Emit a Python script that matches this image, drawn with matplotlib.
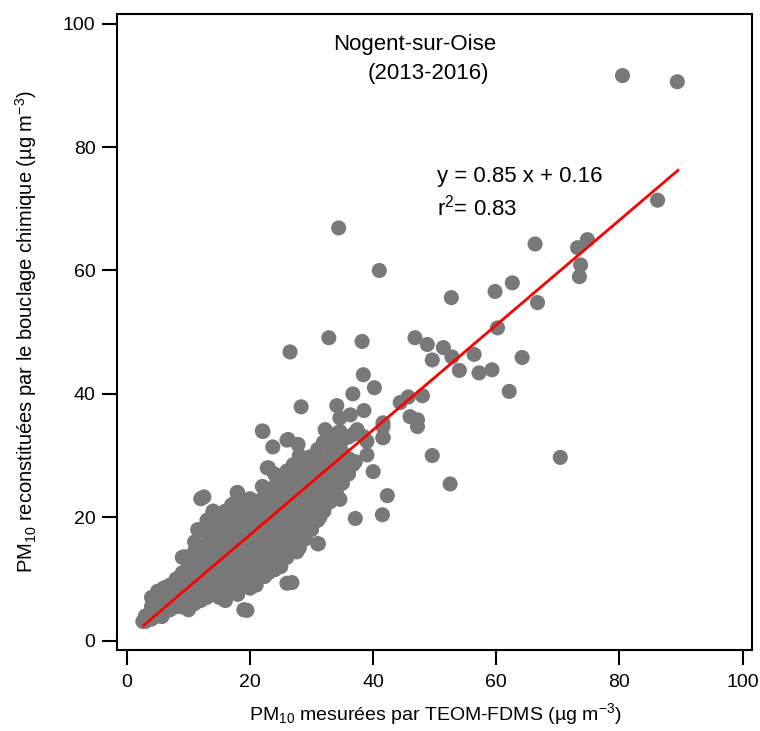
import numpy as np
import matplotlib
matplotlib.use("Agg")
import matplotlib.pyplot as plt

plt.rcParams["font.family"] = ["Liberation Sans", "DejaVu Sans"]
plt.rcParams["mathtext.default"] = "regular"

# PM10 measured (TEOM-FDMS) vs reconstructed (chemical mass closure), ug/m3
# dense core of the cloud
core_x = [3, 3, 4, 4, 4, 5, 5, 5, 5, 6, 6, 6, 6, 7, 7, 7, 7, 7,
          8, 8, 8, 8, 8, 9, 9, 9, 9, 9, 10, 10, 10, 10, 10, 10,
          11, 11, 11, 11, 11, 11, 11, 12, 12, 12, 12, 12, 12, 12, 12,
          13, 13, 13, 13, 13, 13, 13, 13, 14, 14, 14, 14, 14, 14, 14, 14,
          15, 15, 15, 15, 15, 15, 15, 15, 16, 16, 16, 16, 16, 16, 16, 16, 16,
          17, 17, 17, 17, 17, 17, 17, 17, 17,
          18, 18, 18, 18, 18, 18, 18, 18, 18, 18,
          19, 19, 19, 19, 19, 19, 19, 19, 19, 19,
          20, 20, 20, 20, 20, 20, 20, 20, 20, 20,
          21, 21, 21, 21, 21, 21, 21, 21, 21,
          22, 22, 22, 22, 22, 22, 22, 22, 22, 22, 22,
          23, 23, 23, 23, 23, 23, 23, 23, 23, 23,
          24, 24, 24, 24, 24, 24, 24, 24, 24, 24,
          25, 25, 25, 25, 25, 25, 25, 25, 25,
          26, 26, 26, 26, 26, 26, 26, 26, 26, 26, 26,
          27, 27, 27, 27, 27, 27, 27, 27, 27,
          28, 28, 28, 28, 28, 28, 28, 28, 28,
          29, 29, 29, 29, 29, 29, 29, 29,
          30, 30, 30, 30, 30, 30, 30,
          31, 31, 31, 31, 31, 31, 31, 31,
          32, 32, 32, 32, 32, 32,
          33, 33, 33, 33, 33,
          34, 34, 34, 34, 34,
          35, 35, 35, 35,
          36, 36, 36]
core_y = [3.1, 4.0, 3.5, 5.5, 7.0, 4.0, 6.0, 7.5, 8.0, 4.5, 6.5, 8.5, 5.5,
          5.0, 6.0, 7.5, 9.0, 8.0, 5.5, 7.0, 8.5, 10.0, 6.5,
          5.5, 7.5, 9.0, 11.0, 13.5, 5.0, 7.0, 8.5, 10.0, 12.0, 13.0,
          6.0, 8.0, 9.5, 11.0, 12.5, 14.5, 16.0,
          6.5, 8.5, 10.0, 11.5, 13.0, 15.0, 18.0, 23.0,
          7.0, 9.0, 10.5, 12.0, 13.5, 15.5, 17.5, 19.5,
          7.5, 9.0, 11.0, 12.5, 14.0, 16.0, 18.0, 21.0,
          7.0, 9.5, 11.5, 13.0, 14.5, 16.5, 18.5, 20.5,
          6.5, 8.5, 10.0, 12.0, 13.5, 15.0, 17.0, 19.0, 21.0,
          8.0, 10.0, 11.5, 13.0, 14.5, 16.0, 17.5, 19.5, 22.0,
          7.5, 9.5, 11.0, 12.5, 14.0, 15.5, 17.0, 18.5, 20.5, 24.0,
          5.0, 9.0, 10.5, 12.0, 13.5, 15.0, 16.5, 18.0, 20.0, 22.0,
          8.5, 10.0, 11.5, 13.0, 14.5, 16.0, 17.5, 19.0, 21.0, 23.0,
          9.0, 11.0, 12.5, 14.0, 15.5, 17.0, 18.5, 20.0, 22.0,
          10.5, 12.0, 13.5, 15.0, 16.5, 18.0, 19.5, 21.0, 23.0, 25.0, 34.0,
          11.0, 13.0, 14.5, 16.0, 17.5, 19.0, 20.5, 22.0, 24.5, 28.0,
          11.5, 13.5, 15.0, 16.5, 18.0, 19.5, 21.0, 22.5, 25.0, 27.0,
          12.0, 14.5, 16.0, 17.5, 19.0, 20.5, 22.0, 24.0, 26.0,
          13.5, 15.0, 17.0, 18.5, 20.0, 21.5, 23.0, 25.0, 27.5, 32.5, 9.3,
          14.5, 16.5, 18.0, 19.5, 21.0, 23.0, 24.5, 26.5, 28.5,
          15.0, 17.5, 19.0, 21.0, 22.5, 24.0, 26.0, 28.0, 30.0,
          16.5, 18.5, 20.5, 22.0, 23.5, 25.5, 27.0, 29.5,
          18.0, 20.0, 22.0, 23.5, 25.0, 27.0, 29.0,
          15.7, 19.5, 21.5, 23.0, 25.0, 27.0, 28.5, 31.0,
          21.0, 23.0, 25.0, 27.0, 29.0, 31.5,
          22.5, 25.0, 27.0, 29.5, 32.0,
          24.0, 26.0, 28.5, 31.0, 33.5,
          25.5, 28.0, 30.5, 32.5,
          27.0, 29.5, 33.0]

# points around the edge of the cloud and in the mid range
mid_x = [2.6, 5.7, 4.9, 6.2, 7.8, 10.6, 8.9, 9.4, 11.4, 11.5, 12.5, 14.0,
         13.2, 15.6, 17.9, 17.6, 15.9, 19.5, 18.9, 22.4, 26.8, 27.6, 25.2,
         22.9, 21.3, 22.1, 23.7, 26.2, 27.8, 32.2, 31.9, 34.6, 37.4, 38.4,
         39.0, 41.6, 41.6, 37.1, 39.0, 40.0, 42.3, 41.5, 37.1, 29.8, 28.6,
         22.8, 32.5, 33.0, 34.6, 34.6, 31.4, 27.3, 26.0, 23.6, 21.1, 24.9,
         27.6, 30.2, 31.4, 31.1, 34.3, 28.3, 36.7, 40.2, 34.1, 38.5, 36.3,
         34.6, 38.4, 44.4, 45.7, 48.0, 46.0, 47.2, 47.2, 41.6, 41.6, 32.5,
         36.7, 36.7, 26.5, 32.8, 38.2]
mid_y = [3.1, 3.9, 7.5, 8.6, 8.3, 5.8, 5.5, 13.6, 15.6, 18.0, 23.3, 20.9,
         19.6, 20.7, 24.0, 22.4, 6.6, 4.9, 9.4, 10.4, 9.4, 14.4, 15.2,
         24.5, 22.4, 33.9, 31.4, 32.6, 31.8, 34.2, 32.1, 33.9, 34.2, 33.1,
         32.3, 34.7, 32.9, 29.0, 30.1, 27.4, 23.5, 20.4, 19.8, 29.8, 28.0,
         28.0, 28.2, 26.9, 25.6, 22.9, 22.5, 27.2, 25.0, 24.5, 21.7, 22.9,
         24.0, 25.0, 20.1, 15.7, 23.2, 37.9, 40.0, 41.0, 38.1, 37.3, 36.6,
         36.1, 43.1, 38.6, 39.5, 39.7, 36.3, 35.8, 34.7, 35.3, 32.9, 33.7,
         33.4, 28.5, 46.8, 49.1, 48.5]

# high-concentration points
high_x = [80.5, 89.4, 86.2, 66.3, 73.2, 74.8, 73.7, 73.5, 62.6, 59.8,
          52.7, 66.7, 34.4, 41.0, 60.2, 64.2, 62.1, 70.4, 49.6, 52.5,
          46.8, 48.8, 49.6, 51.4, 52.8, 54.0, 56.4, 57.2, 59.3]
high_y = [91.6, 90.6, 71.4, 64.3, 63.7, 65.0, 60.9, 59.0, 58.0, 56.6,
          55.6, 54.8, 66.9, 60.0, 50.7, 45.9, 40.4, 29.7, 30.0, 25.4,
          49.1, 48.0, 45.5, 47.5, 46.0, 43.8, 46.4, 43.4, 43.9]

# linear fit reported on the chart
fit_slope = 0.85
fit_intercept = 0.16
fit_r2 = 0.83
fit_x_range = [2.7, 89.5]

site = "Nogent-sur-Oise"
period = "(2013-2016)"

measured = np.array(core_x + mid_x + high_x, dtype=float)
reconstructed = np.array(core_y + mid_y + high_y, dtype=float)

fig = plt.figure(figsize=(7.6, 7.31), dpi=100)
ax = fig.add_axes([0.154, 0.111, 0.836, 0.870])

ax.scatter(measured, reconstructed, s=118, color="#787878",
           edgecolors="none", zorder=2)

fx = np.array(fit_x_range)
ax.plot(fx, fit_slope * fx + fit_intercept, color="#ff0000", lw=2.0, zorder=3)

ax.set_xlim(-1.6, 101.6)
ax.set_ylim(-1.5, 101.6)
ax.set_xticks(np.arange(0, 101, 20))
ax.set_yticks(np.arange(0, 101, 20))

for side in ax.spines.values():
    side.set_linewidth(1.5)
ax.tick_params(axis="both", direction="out", length=10.5, width=1.5,
               labelsize=14)
ax.tick_params(axis="x", pad=7)
ax.tick_params(axis="y", pad=5)

ax.set_xlabel("PM$_{10}$ mesurées par TEOM-FDMS (µg m$^{-3}$)",
              fontsize=14, labelpad=7)
ax.set_ylabel("PM$_{10}$ reconstituées par le bouclage chimique (µg m$^{-3}$)",
              fontsize=14.5, labelpad=17)

ax.text(46.8, 96.6, site, ha="center", va="center", fontsize=16)
ax.text(48.9, 92.0, period, ha="center", va="center", fontsize=16)

ax.text(50.4, 75.2, f"y = {fit_slope:.2f} x + {fit_intercept:.2f}",
        ha="left", va="center", fontsize=16)
ax.text(50.4, 70.2, f"r$^2$= {fit_r2:.2f}", ha="left", va="center",
        fontsize=16)

fig.savefig("out.png", dpi=100)
